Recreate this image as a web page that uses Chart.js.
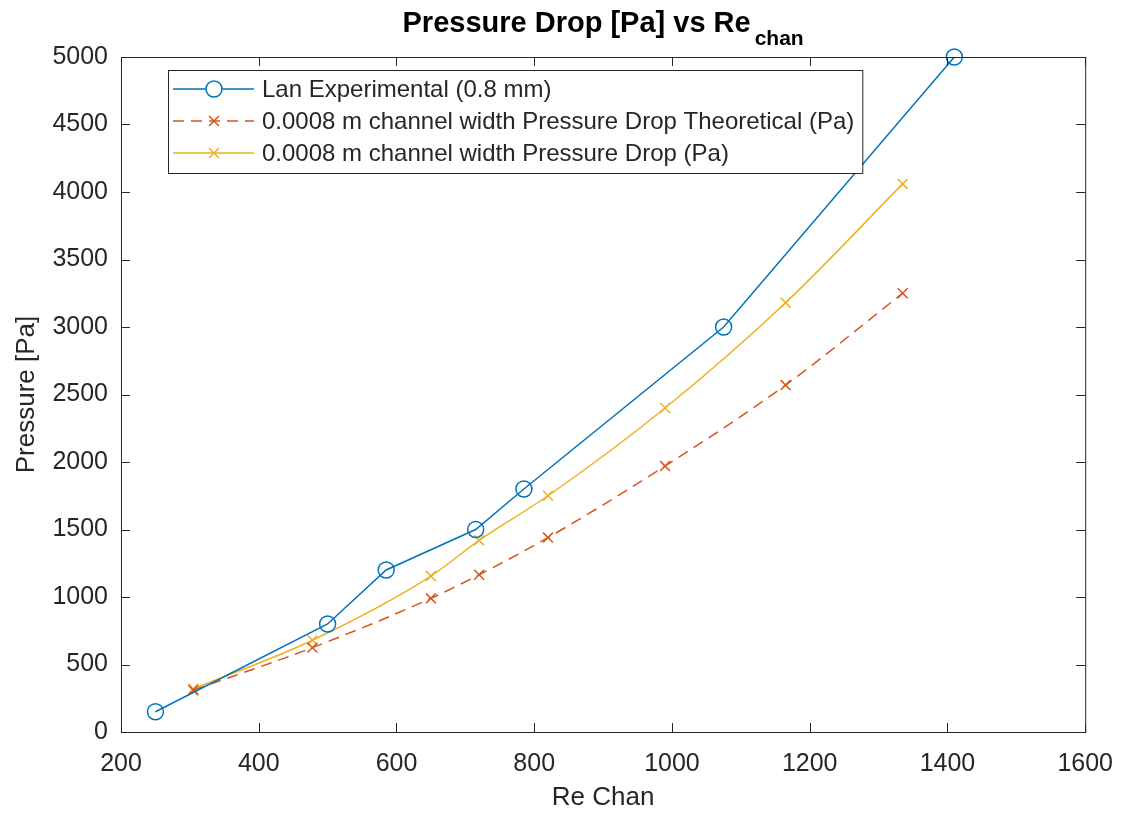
<!DOCTYPE html>
<html>
<head>
<meta charset="utf-8">
<script src="https://cdn.jsdelivr.net/npm/chart.js@4.4.1/dist/chart.umd.min.js"></script>
<style>
  body { margin: 0; background: #fff; }
  #wrap { width: 1130px; height: 814px; }
</style>
</head>
<body>
<div id="wrap"><canvas id="chart" width="1130" height="814"></canvas></div>
<script>
// data
const reChanExp = [250, 500, 585, 715, 785, 1075, 1410];
const pressureExp = [150, 800, 1200, 1500, 1800, 3000, 5000];
const reChanModel = [305, 478, 650, 720, 820, 990, 1165, 1335];
const pressureTheory = [310, 625, 990, 1165, 1440, 1970, 2570, 3250];
const pressureModel = [320, 680, 1155, 1420, 1750, 2400, 3180, 4060];

const seriesLabels = [
  'Lan Experimental (0.8 mm)',
  '0.0008 m channel width Pressure Drop Theoretical (Pa)',
  '0.0008 m channel width Pressure Drop (Pa)',
];
const titleMain = 'Pressure Drop [Pa] vs Re';
const titleSub = 'chan';
const xTitle = 'Re Chan';
const yTitle = 'Pressure [Pa]';

const axisColor = '#262626';
const fontFamily = "'Liberation Sans', Arial, Helvetica, sans-serif";

const toPoints = function (xs, ys) {
  return xs.map((x, i) => ({ x: x, y: ys[i] }));
};

// box round the axes with inward ticks, like matlab
const framePlugin = {
  id: 'frame',
  afterDraw(chart) {
    const ctx = chart.ctx;
    const a = chart.chartArea;
    const xs = chart.scales.x;
    const ys = chart.scales.y;
    const len = 9;
    ctx.save();
    ctx.strokeStyle = axisColor;
    ctx.lineWidth = 1;
    ctx.strokeRect(a.left + 0.5, a.top + 0.5, a.right - a.left, a.bottom - a.top);
    ctx.beginPath();
    xs.ticks.forEach((t) => {
      const px = Math.round(xs.getPixelForValue(t.value)) + 0.5;
      ctx.moveTo(px, a.bottom);
      ctx.lineTo(px, a.bottom - len);
      ctx.moveTo(px, a.top);
      ctx.lineTo(px, a.top + len);
    });
    ys.ticks.forEach((t) => {
      const py = Math.round(ys.getPixelForValue(t.value)) + 0.5;
      ctx.moveTo(a.left, py);
      ctx.lineTo(a.left + len, py);
      ctx.moveTo(a.right, py);
      ctx.lineTo(a.right - len, py);
    });
    ctx.stroke();
    ctx.restore();
  },
};

// title with subscript
const titlePlugin = {
  id: 'subTitle',
  afterDraw(chart) {
    const ctx = chart.ctx;
    const a = chart.chartArea;
    const gap = 4;
    ctx.save();
    ctx.fillStyle = '#000';
    ctx.textBaseline = 'alphabetic';
    ctx.font = 'bold 29px ' + fontFamily;
    const w1 = ctx.measureText(titleMain).width;
    ctx.font = 'bold 21px ' + fontFamily;
    const w2 = ctx.measureText(titleSub).width;
    const start = (a.left + a.right) / 2 - (w1 + w2 + gap) / 2;
    ctx.font = 'bold 29px ' + fontFamily;
    ctx.fillText(titleMain, start, 32);
    ctx.font = 'bold 21px ' + fontFamily;
    ctx.fillText(titleSub, start + w1 + gap, 45);
    ctx.restore();
  },
};

// legend box inside the axes, top left
const legendPlugin = {
  id: 'boxLegend',
  afterDraw(chart) {
    const ctx = chart.ctx;
    const a = chart.chartArea;
    const sets = chart.data.datasets;
    const left = a.left + 47;
    const top = a.top + 13;
    const rowH = 32;
    ctx.save();
    ctx.font = '24px ' + fontFamily;
    let maxW = 0;
    sets.forEach((d) => {
      maxW = Math.max(maxW, ctx.measureText(d.label).width);
    });
    const width = 94 + maxW + 8;
    const height = rowH * sets.length + 7;
    ctx.fillStyle = '#fff';
    ctx.fillRect(left, top, width, height);
    ctx.strokeStyle = axisColor;
    ctx.lineWidth = 1;
    ctx.strokeRect(left + 0.5, top + 0.5, width, height);
    sets.forEach((d, i) => {
      const y = top + 19 + i * rowH;
      ctx.strokeStyle = d.borderColor;
      ctx.lineWidth = d.borderWidth;
      ctx.setLineDash(d.borderDash || []);
      ctx.beginPath();
      ctx.moveTo(left + 5, y);
      ctx.lineTo(left + 86, y);
      ctx.stroke();
      ctx.setLineDash([]);
      Chart.helpers.drawPoint(
        ctx,
        {
          pointStyle: d.pointStyle,
          radius: d.pointRadius,
          borderWidth: d.pointBorderWidth,
          rotation: 0,
        },
        left + 46,
        y
      );
      ctx.fillStyle = axisColor;
      ctx.textBaseline = 'middle';
      ctx.fillText(d.label, left + 94, y + 1);
    });
    ctx.restore();
  },
};

const plainTick = function (value) {
  return String(value);
};

const createChart = function () {
  const canvas = document.querySelector('#chart');
  return new Chart(canvas, {
    type: 'line',
    data: {
      datasets: [
        {
          label: seriesLabels[0],
          data: toPoints(reChanExp, pressureExp),
          borderColor: '#0072BD',
          backgroundColor: 'rgba(0,0,0,0)',
          borderWidth: 1.5,
          pointStyle: 'circle',
          pointRadius: 8,
          pointBorderWidth: 1.5,
          pointBorderColor: '#0072BD',
          pointBackgroundColor: 'rgba(0,0,0,0)',
          tension: 0,
          clip: false,
        },
        {
          label: seriesLabels[1],
          data: toPoints(reChanModel, pressureTheory),
          borderColor: '#D95319',
          backgroundColor: 'rgba(0,0,0,0)',
          borderWidth: 1.5,
          borderDash: [11, 7],
          pointStyle: 'crossRot',
          pointRadius: 7,
          pointBorderWidth: 1.5,
          pointBorderColor: '#D95319',
          cubicInterpolationMode: 'monotone',
          clip: false,
        },
        {
          label: seriesLabels[2],
          data: toPoints(reChanModel, pressureModel),
          borderColor: '#EDB120',
          backgroundColor: 'rgba(0,0,0,0)',
          borderWidth: 1.5,
          pointStyle: 'crossRot',
          pointRadius: 7,
          pointBorderWidth: 1.5,
          pointBorderColor: '#EDB120',
          cubicInterpolationMode: 'monotone',
          clip: false,
        },
      ],
    },
    options: {
      responsive: false,
      animation: false,
      layout: {
        padding: { left: 0, right: 37, top: 57, bottom: 0 },
      },
      plugins: {
        legend: { display: false },
        title: { display: false },
        tooltip: { enabled: false },
      },
      scales: {
        x: {
          type: 'linear',
          min: 200,
          max: 1600,
          grid: { display: false, drawTicks: false },
          border: { display: false },
          ticks: {
            stepSize: 200,
            padding: 17,
            color: axisColor,
            font: { family: fontFamily, size: 25 },
            maxRotation: 0,
            callback: plainTick,
          },
          title: {
            display: true,
            text: xTitle,
            color: axisColor,
            font: { family: fontFamily, size: 26 },
            padding: { top: 0, bottom: 1 },
          },
          afterFit(scale) {
            scale.height = 82;
          },
        },
        y: {
          type: 'linear',
          min: 0,
          max: 5000,
          grid: { display: false, drawTicks: false },
          border: { display: false },
          ticks: {
            stepSize: 500,
            padding: 13,
            color: axisColor,
            font: { family: fontFamily, size: 25 },
            callback: plainTick,
          },
          title: {
            display: true,
            text: yTitle,
            color: axisColor,
            font: { family: fontFamily, size: 26 },
            padding: { top: 11, bottom: 0 },
          },
          afterFit(scale) {
            scale.width = 121;
          },
        },
      },
    },
    plugins: [framePlugin, titlePlugin, legendPlugin],
  });
};

document.addEventListener('DOMContentLoaded', createChart);
</script>
</body>
</html>
